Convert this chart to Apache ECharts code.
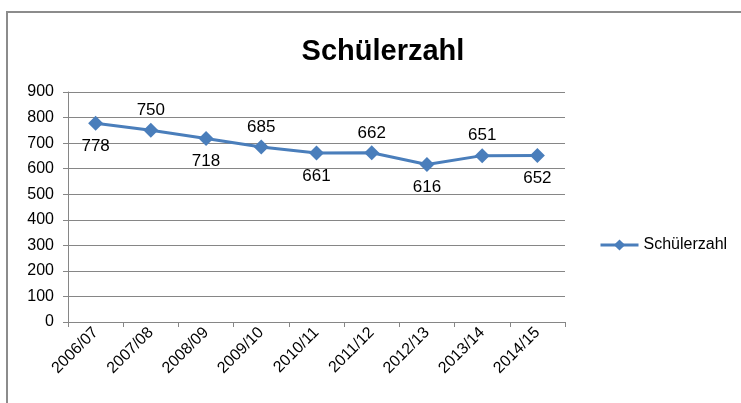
<!DOCTYPE html>
<html>
<head>
<meta charset="utf-8">
<script src="https://cdn.jsdelivr.net/npm/echarts@6/dist/echarts.min.js"></script>
<style>
  html, body { margin: 0; padding: 0; background: #fff; }
  #frame { position: absolute; left: 6px; top: 11px; width: 760px; height: 420px;
           border-left: 2px solid #8c8c8c; border-top: 2px solid #8c8c8c; }
  #chart { position: absolute; left: 0; top: 0; width: 741px; height: 403px; }
</style>
</head>
<body>
<div id="frame"></div>
<div id="chart"></div>
<script>
// Schuljahre und Schülerzahlen
const years = ['2006/07', '2007/08', '2008/09', '2009/10', '2010/11', '2011/12', '2012/13', '2013/14', '2014/15'];
const pupils = [778, 750, 718, 685, 661, 662, 616, 651, 652];
const labelPos = ['bottom', 'top', 'bottom', 'top', 'bottom', 'top', 'bottom', 'top', 'bottom'];
const yTicks = [0, 100, 200, 300, 400, 500, 600, 700, 800, 900];

const font = '"Liberation Sans", Arial, sans-serif';
const blue = '#4a7ebb';
const gray = '#868686';

const chart = echarts.init(document.getElementById('chart'));

chart.setOption({
  animation: false,
  title: {
    text: 'Schülerzahl',
    left: 378,
    top: 32,
    textAlign: 'center',
    textStyle: { fontFamily: font, fontSize: 29, fontWeight: 'bold', color: '#000' }
  },
  legend: {
    left: 594,
    top: 232,
    itemWidth: 38,
    itemHeight: 14,
    itemGap: 4,
    lineStyle: { width: 3 },
    textStyle: { fontFamily: font, fontSize: 16, color: '#000' },
    data: ['Schülerzahl']
  },
  grid: { left: 68, right: 176, top: 92, bottom: 81 },
  xAxis: {
    type: 'category',
    data: years,
    boundaryGap: true,
    axisLine: { lineStyle: { color: gray, width: 1 } },
    axisTick: { show: true, length: 5, lineStyle: { color: gray } },
    axisLabel: { rotate: 45, margin: 8, fontFamily: font, fontSize: 16, color: '#000', interval: 0 },
    splitLine: { show: false }
  },
  yAxis: {
    type: 'value',
    min: yTicks[0],
    max: yTicks[yTicks.length - 1],
    interval: 100,
    axisLine: { show: true, lineStyle: { color: gray, width: 1 } },
    axisTick: { show: true, length: 5, lineStyle: { color: gray } },
    axisLabel: { margin: 14, fontFamily: font, fontSize: 16, color: '#000' },
    splitLine: { show: true, lineStyle: { color: gray, width: 1 } }
  },
  series: [{
    name: 'Schülerzahl',
    type: 'line',
    data: pupils.map((v, i) => ({
      value: v,
      label: { position: labelPos[i], distance: labelPos[i] === 'top' ? 4 : 7 }
    })),
    symbol: 'diamond',
    symbolSize: 15,
    itemStyle: { color: blue },
    lineStyle: { color: blue, width: 3 },
    label: {
      show: true,
      fontFamily: font,
      fontSize: 17,
      color: '#000'
    }
  }]
});
</script>
</body>
</html>
